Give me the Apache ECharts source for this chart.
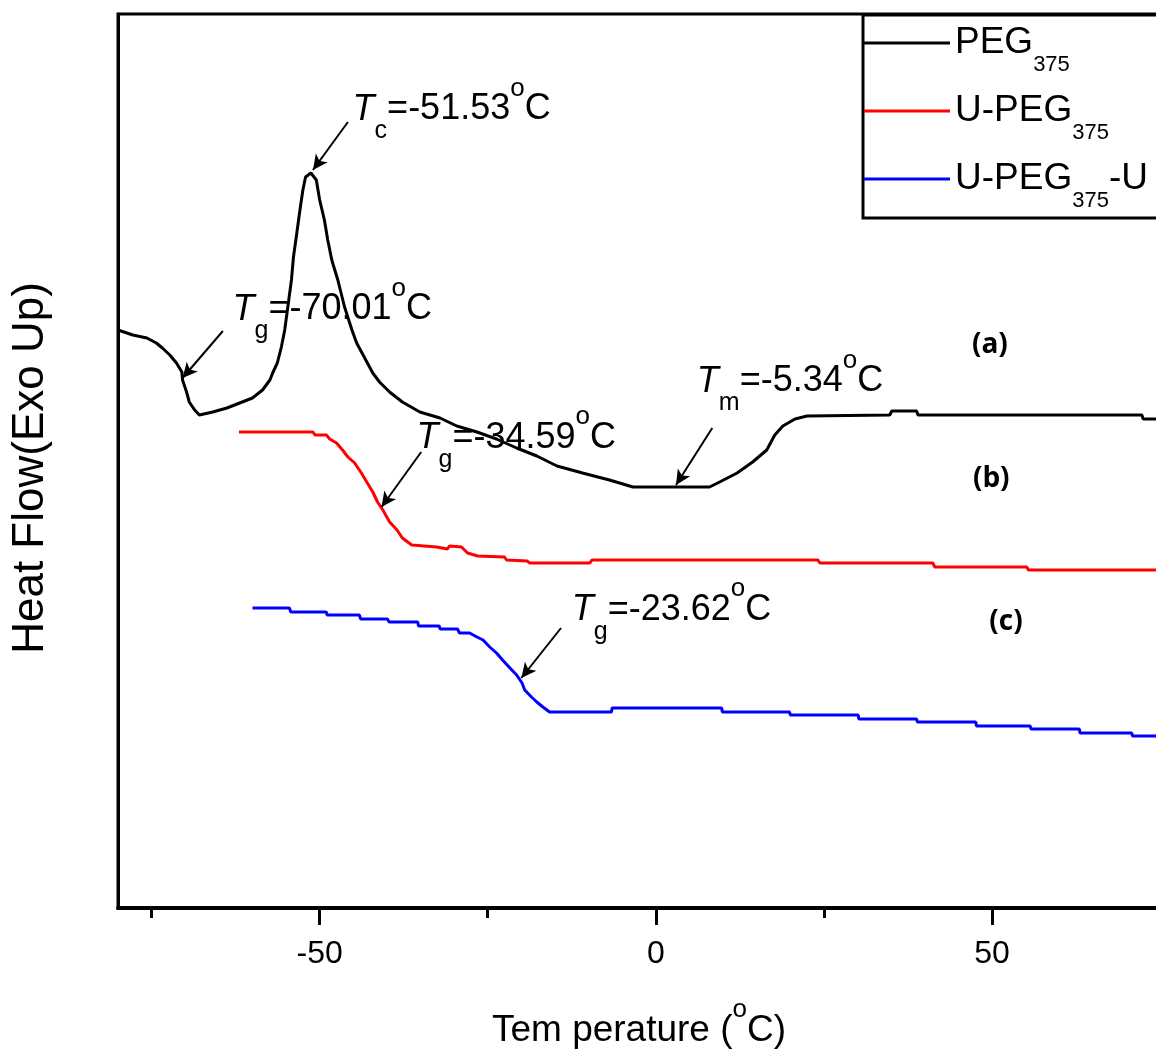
<!DOCTYPE html>
<html>
<head>
<meta charset="utf-8">
<script src="https://cdn.jsdelivr.net/npm/echarts@6/dist/echarts.min.js"></script>
<style>
html,body{margin:0;padding:0;background:#fff;}
#chart{width:1156px;height:1055px;}
</style>
</head>
<body>
<div id="chart"></div>
<script>
// ---------------- data ----------------
const seriesNames = ['PEG375', 'U-PEG375', 'U-PEG375-U'];
const xMajorTicks = [-50, 0, 50];
const xMinorTicks = [-75, -25, 25, 75];

const peg375 = [
  [-80.0,57.8],[-77.8,57.3],[-75.7,57.0],[-74.3,56.5],[-73.4,56.0],[-72.3,55.3],[-71.3,54.5],
  [-70.5,53.6],[-70.4,52.8],[-69.8,51.6],[-69.4,50.6],[-68.6,49.8],[-67.9,49.3],[-65.9,49.6],
  [-63.8,50.0],[-61.9,50.5],[-60.0,51.0],[-58.5,51.8],[-57.4,52.8],[-57.0,53.5],[-56.3,54.5],
  [-55.7,56.1],[-55.2,57.8],[-54.8,59.8],[-54.2,62.8],[-53.9,65.1],[-53.4,67.5],[-53.0,69.5],
  [-52.5,71.8],[-52.1,73.1],[-51.3,73.5],[-50.5,72.8],[-50.0,70.8],[-49.3,68.8],[-48.8,66.8],
  [-48.2,64.8],[-47.3,62.8],[-46.3,60.1],[-45.2,57.8],[-44.5,56.5],[-43.3,55.0],[-42.1,53.5],
  [-41.1,52.6],[-39.6,51.6],[-37.7,50.6],[-35.1,49.6],[-32.1,49.0],[-29.6,48.2],[-26.6,47.6],
  [-23.7,46.9],[-20.7,46.0],[-17.7,45.2],[-14.7,44.2],[-10.9,43.5],[-6.9,42.8],[-3.4,42.1],
  [8.0,42.1],[9.5,42.6],[12.1,43.5],[14.4,44.6],[16.5,45.8],[17.7,47.3],[18.9,48.2],
  [20.7,48.9],[22.5,49.2],[34.8,49.3],[35.1,49.7],[38.8,49.7],[39.0,49.3],[72.3,49.3],
  [72.5,48.9],[75.0,48.9]
];

const uPeg375 = [
  [-62.0,47.6],[-51.0,47.6],[-50.7,47.3],[-49.0,47.3],[-48.5,46.9],[-47.5,46.5],[-46.6,45.8],
  [-45.8,45.1],[-44.8,44.5],[-43.8,43.5],[-43.0,42.6],[-42.1,41.6],[-41.4,40.6],[-40.6,39.8],
  [-39.6,38.6],[-38.5,37.8],[-37.7,37.0],[-36.3,36.3],[-32.6,36.1],[-32.4,35.9],[-31.0,35.9],
  [-30.7,36.2],[-28.9,36.1],[-28.0,35.5],[-26.5,35.2],[-22.5,35.1],[-22.2,34.8],[-19.1,34.7],
  [-18.8,34.5],[-9.8,34.5],[-9.5,34.8],[24.1,34.8],[24.4,34.5],[41.2,34.5],[41.5,34.1],
  [55.2,34.1],[55.4,33.8],[75.0,33.8]
];

const uPeg375U = [
  [-60.0,30.0],[-54.5,30.0],[-54.3,29.6],[-49.0,29.6],[-48.9,29.3],[-44.1,29.3],[-43.9,28.9],
  [-39.9,28.9],[-39.7,28.6],[-35.4,28.6],[-35.3,28.2],[-32.2,28.2],[-32.1,27.9],[-29.5,27.9],
  [-29.2,27.5],[-27.7,27.5],[-26.6,27.1],[-25.7,26.8],[-24.7,26.1],[-23.7,25.5],[-22.8,24.8],
  [-21.7,24.0],[-20.7,23.3],[-19.9,22.5],[-19.5,21.8],[-18.5,21.1],[-17.7,20.6],[-16.8,20.1],
  [-15.8,19.6],[-6.6,19.6],[-6.5,20.0],[9.8,20.0],[9.9,19.6],[19.9,19.6],[20.0,19.3],
  [30.1,19.3],[30.2,18.9],[38.8,18.9],[38.9,18.6],[47.6,18.6],[47.7,18.2],[55.7,18.2],
  [55.8,17.9],[63.0,17.9],[63.1,17.5],[70.8,17.5],[70.9,17.2],[75.0,17.2]
];

// annotation arrows: [series index, from, to] in data units
const arrows = [
  [0, [-64.4, 57.7], [-70.4, 53.0]],
  [0, [-45.8, 78.6], [-51.0, 73.8]],
  [0, [8.4, 48.0], [3.0, 42.3]],
  [1, [-34.9, 45.6], [-40.8, 40.1]],
  [2, [-14.1, 28.0], [-20.0, 23.0]]
];
// annotation texts: subscript, value, anchor (data units)
const annotSubs   = ['c', 'g', 'g', 'm', 'g'];
const annotValues = ['-51.53', '-70.01', '-34.59', '-5.34', '-23.62'];
const annotAnchors = [[-45.1, 79.85], [-62.95, 59.85], [-35.6, 47.0], [6.1, 52.65], [-12.5, 29.8]];
// curve labels
const curveLabels = ['(a)', '(b)', '(c)'];
const curveLabelAnchors = [[49.7, 56.3], [49.9, 42.85], [52.1, 28.55]];

// ---------------- chart ----------------
const FONT = "'Liberation Sans', Arial, sans-serif";
const colors = ['#000000', '#ff0000', '#0000ff'];
const legendText = {
  'PEG375': '{m|PEG}{s|375}',
  'U-PEG375': '{m|U-PEG}{s|375}',
  'U-PEG375-U': '{m|U-PEG}{s|375}{m|-U}'
};
const seriesData = [peg375, uPeg375, uPeg375U];

const chart = echarts.init(document.getElementById('chart'), null, {renderer: 'canvas'});

const series = seriesNames.map((name, i) => ({
  name: name,
  type: 'line',
  data: seriesData[i],
  showSymbol: false,
  symbol: 'none',
  smooth: false,
  lineStyle: {color: colors[i], width: 3},
  itemStyle: {color: colors[i]},
  emphasis: {disabled: true},
  markLine: {
    silent: true,
    symbol: ['none', 'arrow'],
    symbolSize: [11, 15],
    label: {show: false},
    lineStyle: {color: '#000', width: 2, type: 'solid'},
    emphasis: {disabled: true},
    data: arrows.filter(a => a[0] === i).map(a => [{coord: a[1]}, {coord: a[2]}])
  }
}));

const option = {
  animation: false,
  backgroundColor: '#fff',
  textStyle: {fontFamily: FONT, color: '#000'},
  grid: {
    left: 118, top: 14, width: 1042, height: 894,
    show: true, borderColor: '#000', borderWidth: 3, backgroundColor: 'transparent',
    outerBoundsMode: 'none', containLabel: false
  },
  legend: {
    orient: 'vertical',
    left: 863, top: 15,
    padding: [0, 40, 6, 1],
    icon: 'rect',
    itemWidth: 86, itemHeight: 3, itemGap: 7,
    borderColor: '#000', borderWidth: 3, backgroundColor: '#fff',
    selectedMode: false,
    formatter: name => legendText[name],
    textStyle: {
      color: '#000', fontFamily: FONT, fontSize: 37,
      rich: {
        m: {fontSize: 37, fontFamily: FONT, color: '#000', lineHeight: 56},
        s: {fontSize: 22, fontFamily: FONT, color: '#000', height: 20, lineHeight: 20,
            verticalAlign: 'top', padding: [40, 0, 0, 0]}
      }
    }
  },
  xAxis: [
    {
      type: 'value', min: -80, max: 75, position: 'bottom',
      axisLine: {show: true, onZero: false, lineStyle: {color: '#000', width: 4}},
      axisTick: {show: true, inside: false, length: 17, customValues: xMajorTicks,
                 lineStyle: {color: '#000', width: 3}},
      axisLabel: {show: true, customValues: xMajorTicks, formatter: v => String(v),
                  color: '#000', fontSize: 32, fontFamily: FONT, lineHeight: 32, margin: 30},
      splitLine: {show: false},
      name: '{m|Tem perature (}{o|o}{m|C)}',
      nameLocation: 'middle', nameGap: 92,
      nameTextStyle: {
        color: '#000', fontFamily: FONT, fontSize: 37,
        rich: {
          m: {fontSize: 37, fontFamily: FONT, color: '#000', lineHeight: 62},
          o: {fontSize: 26, fontFamily: FONT, color: '#000', height: 20, lineHeight: 20, verticalAlign: 'top'}
        }
      }
    },
    {
      type: 'value', min: -80, max: 75, position: 'bottom',
      axisLine: {show: false, onZero: false},
      axisTick: {show: true, inside: false, length: 10, customValues: xMinorTicks,
                 lineStyle: {color: '#000', width: 3}},
      axisLabel: {show: false},
      splitLine: {show: false}
    }
  ],
  yAxis: {
    type: 'value', min: 0, max: 89.4,
    axisLine: {show: true, onZero: false, lineStyle: {color: '#000', width: 3}},
    axisTick: {show: false},
    axisLabel: {show: false},
    splitLine: {show: false},
    name: 'Heat Flow(Exo Up)',
    nameLocation: 'middle', nameGap: 65,
    nameTextStyle: {color: '#000', fontFamily: FONT, fontSize: 44, lineHeight: 44, padding: [0, 14, 0, 0]}
  },
  series: series
};

chart.setOption(option);

// annotation texts positioned through the chart's own scales
const toPx = p => chart.convertToPixel({xAxisIndex: 0, yAxisIndex: 0}, p);
const annotRich = {
  t: {fontSize: 36, fontFamily: FONT, fontStyle: 'italic', fill: '#000', lineHeight: 62},
  n: {fontSize: 36, fontFamily: FONT, fill: '#000', lineHeight: 62},
  s: {fontSize: 25, fontFamily: FONT, fill: '#000', height: 20, lineHeight: 20, verticalAlign: 'top', padding: [43, 0, 0, 0]},
  o: {fontSize: 26, fontFamily: FONT, fill: '#000', height: 20, lineHeight: 20, verticalAlign: 'top'}
};
const graphics = [];
annotSubs.forEach((sub, i) => {
  const p = toPx(annotAnchors[i]);
  graphics.push({
    type: 'text', x: p[0], y: p[1], silent: true, z: 10,
    style: {
      text: '{t|T}{s|' + sub + '}{n|=' + annotValues[i] + '}{o|o}{n|C}',
      rich: annotRich, align: 'left', verticalAlign: 'middle',
      fontFamily: FONT, fontSize: 36, fill: '#000'
    }
  });
});
curveLabels.forEach((t, i) => {
  const p = toPx(curveLabelAnchors[i]);
  graphics.push({
    type: 'text', x: p[0], y: p[1], silent: true, z: 10,
    style: {
      text: t, align: 'center', verticalAlign: 'middle',
      fontFamily: "'Open Sans', 'Liberation Sans', sans-serif", fontWeight: 'bold', fontSize: 28, fill: '#000'
    }
  });
});
chart.setOption({graphic: graphics});
</script>
</body>
</html>
